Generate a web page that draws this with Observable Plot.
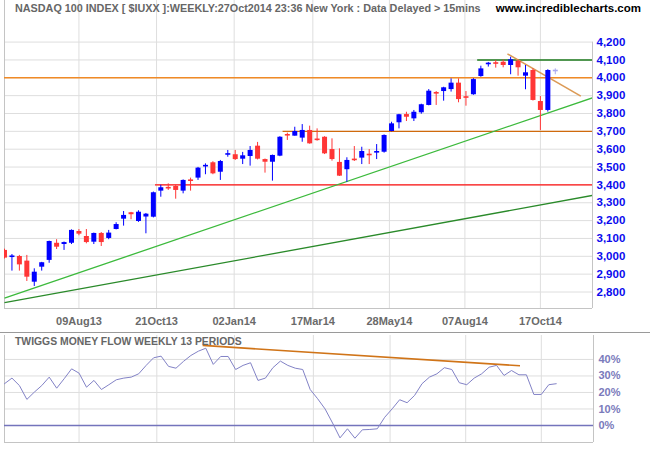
<!DOCTYPE html>
<html><head><meta charset="utf-8">
<script src="https://cdn.jsdelivr.net/npm/d3@7"></script>
<script src="https://cdn.jsdelivr.net/npm/@observablehq/plot@0.6"></script>
<style>
body{margin:0;background:#fff;}
#chart{position:relative;width:650px;height:450px;overflow:hidden;background:#fff;font-family:"Liberation Sans",Arial,sans-serif;}
#chart svg{position:absolute;left:0;}
.t{position:absolute;font-weight:bold;font-size:11px;white-space:nowrap;line-height:11px;}
</style></head><body>
<div id="chart"></div>
<script>
// ---- data (weekly candles, week ending Fridays from 31 May 2013) ----
const firstWeekEnding = [2013, 4, 31];
const open  = [3033,2995,2999,2973,2855,2939,2977,3073,3066,3073,3139,3111,3079,3128,3100,3150,3208,3244,3195,3220,
               3219,3365,3385,3391,3365,3426,3438,3503,3524,3471,3567,3569,3544,3559,3617,3542,3527,3561,3681,3673,
               3662,3705,3656,3667,3598,3526,3485,3543,3550,3572,3578,3583,3699,3748,3794,3770,3804,3845,3916,3923,
               3934,3970,3893,3905,4007,4075,4082,4087,4069,4093,4009,4041,3867,3817,4035];
const high  = [3040,3010,3005,3005,2930,2966,3085,3093,3080,3148,3150,3150,3130,3133,3145,3188,3251,3246,3255,3240,
               3360,3398,3406,3398,3428,3438,3498,3518,3530,3537,3593,3593,3582,3615,3638,3545,3567,3670,3690,3723,
               3738,3729,3714,3670,3658,3602,3552,3615,3611,3598,3626,3680,3751,3795,3807,3817,3852,3934,3923,3947,
               3994,3994,3923,3995,4065,4086,4097,4100,4115,4100,4069,4050,3895,4045,4050];
const low   = [2985,2917,2917,2859,2831,2917,2961,3038,3033,3066,3115,3070,3066,3055,3093,3148,3169,3205,3190,3126,
               3215,3331,3369,3320,3350,3365,3425,3457,3457,3425,3555,3537,3514,3505,3540,3466,3421,3558,3649,3673,
               3639,3628,3645,3570,3533,3447,3415,3531,3514,3514,3542,3578,3697,3714,3755,3755,3796,3843,3845,3869,
               3920,3860,3841,3902,4003,4060,4054,4056,4017,4009,3933,3870,3705,3808,4017];
const close = [2990,3000,2952,2883,2911,2964,3083,3051,3077,3145,3124,3077,3128,3077,3130,3178,3229,3233,3247,3236,
               3356,3384,3378,3369,3425,3421,3494,3507,3462,3531,3574,3542,3563,3593,3544,3527,3565,3667,3675,3699,
               3705,3630,3649,3574,3542,3449,3537,3537,3587,3563,3587,3677,3742,3793,3779,3807,3849,3925,3910,3944,
               3970,3878,3886,3990,4050,4080,4078,4069,4101,4056,4028,3873,3817,4041,4041];
// Twiggs Money Flow (13 periods), percent
const moneyFlow = [25.3,28.7,24.2,15.8,20.2,24.2,29.3,22.6,28.3,34.3,31.7,23.2,27.3,21.8,24.7,27.7,28.7,29.3,31.3,36.4,
                   41.0,42.0,35.8,34.7,38.8,42.4,45.0,46.8,37.0,41.8,41.8,33.9,36.4,38.0,27.3,28.7,35.0,39.0,36.4,34.7,
                   33.9,21.8,16.2,10.0,1.5,-7.5,-2.0,-7.7,-2.6,-2.4,-2.0,5.0,10.1,15.6,13.8,18.2,25.3,29.3,31.3,35.0,
                   33.9,25.9,24.7,28.7,31.3,35.3,36.4,30.3,33.3,30.7,30.7,18.8,18.8,24.7,25.3];
// horizontal support / resistance levels
const levelValue = [4100, 4000, 3700, 3400];
const levelStart = ["2014-08-19", "2013-05-31", "2014-02-17", "2013-10-20"];
// trend lines (price panel)
const trendStart = ["2013-05-31", "2013-05-31", "2014-09-16"];
const trendStartValue = [2766, 2740, 4134];
const trendEnd = ["2014-12-05", "2014-12-05", "2014-11-24"];
const trendEndValue = [3888, 3341, 3897];
// divergence line (money flow panel)
const divStart = ["2013-12-03"], divStartValue = [48.5], divEnd = ["2014-09-27"], divEndValue = [36.2];
// axis ticks
const dateTicks = ["2013-08-09", "2013-10-21", "2014-01-02", "2014-03-17", "2014-05-28", "2014-08-07", "2014-10-17"];
const priceTicks = [2800, 2900, 3000, 3100, 3200, 3300, 3400, 3500, 3600, 3700, 3800, 3900, 4000, 4100, 4200];
const flowTicks = [0, 10, 20, 30, 40];
const titleText = "NASDAQ 100 INDEX [ $IUXX ]:WEEKLY:27Oct2014 23:36 New York : Data Delayed > 15mins";
const siteText = "www.incrediblecharts.com";
const flowTitle = "TWIGGS MONEY FLOW WEEKLY 13 PERIODS";

// ---- build ----
const P = s => new Date(s + "T00:00:00Z");
const weekDate = i => new Date(Date.UTC(firstWeekEnding[0], firstWeekEnding[1], firstWeekEnding[2] + 7 * i));
const lastIdx = open.length - 1;
const candles = open.map((o, i) => ({
  date: weekDate(i), open: o, high: high[i], low: low[i], close: close[i],
  color: i === lastIdx ? "#a9a9f2" : (close[i] >= o ? "#0000ff" : "#ff3636")
}));
const flow = moneyFlow.map((v, i) => ({date: weekDate(i), v}));
const levels = levelValue.map((v, i) => ({v, from: P(levelStart[i])}));
const levelColors = ["#1d7a1d", "#f08a26", "#d06a0c", "#ff1010"];
const trends = trendStart.map((s, i) => ({x1: P(s), y1: trendStartValue[i], x2: P(trendEnd[i]), y2: trendEndValue[i]}));
const trendColors = ["#3cba3c", "#2a8a2a", "#dc9a55"];
const divs = divStart.map((s, i) => ({x1: P(s), y1: divStartValue[i], x2: P(divEnd[i]), y2: divEndValue[i]}));
const xDom = [P("2013-05-31"), P("2014-12-05")];
const tickDates = dateTicks.map(P);
const fmtDate = d3.utcFormat("%d%b%y");
const yDom = [2707.6, 4433];
const fDom = [-10.3, 54.5];
const GRID = "#dedede", BORDER = "#c4c4c4";
const baseStyle = {fontFamily: '"Liberation Sans", Arial, sans-serif', fontSize: "11px", fontWeight: "bold", background: "transparent", overflow: "visible"};
const bodyHalf = d => Math.max(Math.abs(d.open - d.close), 9) / 2;

const price = Plot.plot({
  width: 650, height: 330,
  marginLeft: 4, marginRight: 58, marginTop: 0, marginBottom: 22,
  x: {type: "utc", domain: xDom},
  y: {domain: yDom},
  style: baseStyle,
  marks: [
    Plot.gridY(priceTicks, {stroke: GRID, strokeOpacity: 1}),
    Plot.gridX(tickDates, {stroke: GRID, strokeOpacity: 1}),
    Plot.ruleX([xDom[0]], {stroke: BORDER}),
    Plot.ruleX([xDom[1]], {y1: yDom[0], y2: 4200, stroke: BORDER}),
    Plot.ruleY([yDom[0]], {stroke: BORDER}),
    ...levels.map((l, i) => Plot.ruleY([l], {y: "v", x1: "from", x2: xDom[1], stroke: levelColors[i], strokeWidth: 1.4})),
    ...trends.map((t, i) => Plot.link([t], {x1: "x1", y1: "y1", x2: "x2", y2: "y2", stroke: trendColors[i], strokeWidth: i === 2 ? 1.6 : 1.3, clip: true})),
    Plot.ruleX(candles, {x: "date", y1: "low", y2: "high", stroke: "color", strokeWidth: 1, clip: true}),
    Plot.ruleX(candles, {x: "date", y1: d => (d.open + d.close) / 2 - bodyHalf(d), y2: d => (d.open + d.close) / 2 + bodyHalf(d), stroke: "color", strokeWidth: 5, clip: true}),
    Plot.axisY(priceTicks, {anchor: "right", tickSize: 0, tickPadding: 4, tickFormat: d3.format(","), fill: "#0a0aee", fontSize: 11.5, label: null}),
    Plot.axisX(tickDates, {tickSize: 0, tickPadding: 9, tickFormat: d => fmtDate(d), fill: "#6a6a6a", label: null})
  ]
});
price.style.top = "0px";

const mf = Plot.plot({
  width: 650, height: 120,
  marginLeft: 4, marginRight: 57, marginTop: 5, marginBottom: 8,
  x: {type: "utc", domain: xDom},
  y: {domain: fDom},
  style: baseStyle,
  marks: [
    Plot.gridY(flowTicks, {stroke: GRID, strokeOpacity: 1}),
    Plot.gridX(tickDates, {stroke: GRID, strokeOpacity: 1}),
    Plot.ruleX([xDom[0]], {stroke: BORDER}),
    Plot.ruleX([xDom[1]], {stroke: BORDER}),
    Plot.ruleY([fDom[0]], {stroke: BORDER}),
    Plot.ruleY([0], {stroke: "#7474bc", strokeWidth: 1.3}),
    Plot.link(divs, {x1: "x1", y1: "y1", x2: "x2", y2: "y2", stroke: "#d07418", strokeWidth: 1.6}),
    Plot.line(flow, {x: "date", y: "v", stroke: "#8282c6", strokeWidth: 1}),
    Plot.axisY(flowTicks, {anchor: "right", tickSize: 0, tickPadding: 5, tickFormat: d => d + "%", fill: "#7a7abb", label: null}),
    Plot.axisX(tickDates, {tickSize: 0, tickFormat: () => "", label: null})
  ]
});
mf.style.top = "330px";

const chart = document.getElementById("chart");
chart.appendChild(price);
chart.appendChild(mf);
const sep = document.createElement("div");
sep.style.cssText = "position:absolute;left:0;top:332px;width:650px;height:1px;background:#9a9a9a;";
chart.appendChild(sep);
function addText(txt, css) {
  const d = document.createElement("div");
  d.className = "t"; d.textContent = txt; d.style.cssText += css;
  chart.appendChild(d);
}
addText(titleText, "left:15px;top:3px;color:#666;font-size:10.8px;");
addText(siteText, "right:9px;top:3px;color:#000;font-size:11.5px;");
addText(flowTitle, "left:15px;top:336px;color:#666;font-size:10.4px;");
</script>
</body></html>
